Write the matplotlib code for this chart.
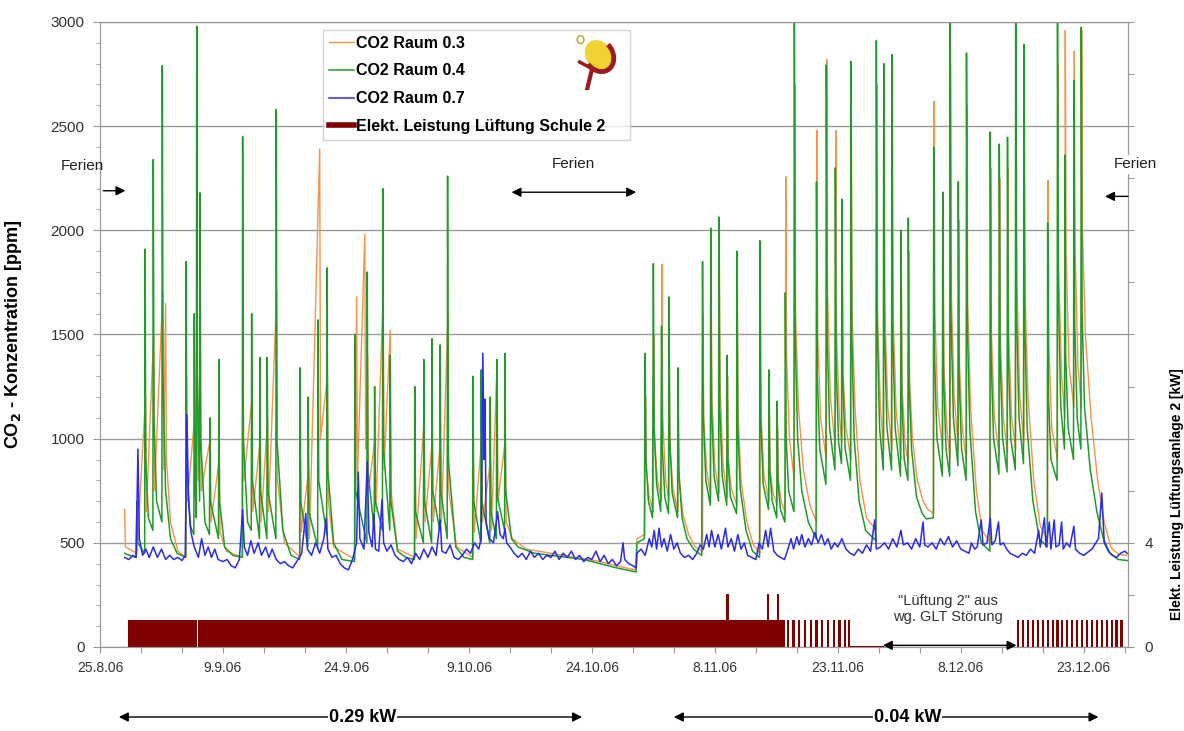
import numpy as np
import matplotlib.pyplot as plt
from matplotlib.patches import Ellipse, Arc, Circle

plt.rcParams['font.family'] = ['Liberation Sans', 'DejaVu Sans']

# x values are days after 25.8.06, y values ppm
green = np.array([
    (3.0, 450), (3.6, 440), (4.4, 430), (4.5, 700), (4.6, 500), (5.45, 450), (5.5, 1910), (5.58, 900),
    (5.9, 620), (6.45, 560), (6.5, 2340), (6.58, 1100), (6.9, 700), (7.55, 600), (7.6, 2790), (7.68, 1300),
    (8.0, 750), (8.6, 520), (9.4, 450), (10.45, 430), (10.5, 1850), (10.58, 900), (11.0, 580), (11.45, 540),
    (11.5, 1600), (11.58, 800), (11.75, 620), (11.8, 2980), (11.88, 1300), (12.15, 700), (12.2, 2180),
    (12.28, 1000), (12.8, 600), (13.35, 540), (13.4, 1100), (13.48, 700), (14.45, 520), (14.5, 1380),
    (14.58, 700), (15.2, 480), (16.2, 440), (17.35, 430), (17.4, 2450), (17.48, 1000), (18.0, 600),
    (18.45, 560), (18.5, 1600), (18.58, 800), (19.45, 520), (19.5, 1390), (19.58, 750), (20.35, 520),
    (20.4, 1390), (20.48, 750), (21.45, 520), (21.5, 2580), (21.58, 1000), (22.3, 560), (23.3, 440),
    (24.35, 420), (24.4, 1340), (24.48, 700), (25.35, 480), (25.4, 1200), (25.48, 650), (26.55, 480),
    (26.6, 1570), (26.68, 800), (27.65, 540), (27.7, 1820), (27.78, 850), (28.5, 500), (29.5, 420),
    (31.05, 410), (31.1, 1500), (31.18, 750), (32.55, 500), (32.6, 1800), (32.68, 850), (33.45, 560),
    (33.5, 1250), (33.58, 700), (34.45, 560), (34.5, 2200), (34.58, 950), (35.35, 560), (35.4, 1400),
    (35.48, 700), (36.3, 460), (37.3, 430), (38.35, 420), (38.4, 1250), (38.48, 650), (39.45, 500),
    (39.5, 1380), (39.58, 700), (40.45, 500), (40.5, 1480), (40.58, 750), (41.45, 560), (41.5, 1450),
    (41.58, 750), (42.35, 520), (42.4, 2260), (42.48, 900), (43.4, 480), (44.4, 430), (45.45, 420),
    (45.5, 1300), (45.58, 700), (46.45, 500), (46.5, 1330), (46.58, 700), (47.55, 500), (47.6, 1200),
    (47.68, 650), (48.35, 520), (48.4, 1380), (48.48, 720), (49.35, 560), (49.4, 1410), (49.48, 750),
    (50.2, 520), (51.0, 480), (53.0, 450), (55.0, 440), (57.0, 430), (59.0, 420), (61.0, 400),
    (63.0, 380), (65.4, 360), (65.5, 500), (66.4, 520), (66.5, 1410), (66.6, 900), (66.9, 700),
    (67.4, 620), (67.5, 1840), (67.6, 1050), (67.9, 780), (68.4, 650), (68.5, 1540), (68.6, 950),
    (68.9, 720), (69.35, 640), (69.4, 1680), (69.5, 1000), (69.8, 740), (70.45, 620), (70.5, 1340),
    (70.6, 850), (71.0, 620), (71.6, 520), (72.4, 470), (73.4, 440), (73.5, 1850), (73.6, 1100),
    (73.9, 800), (74.45, 680), (74.5, 2010), (74.6, 1150), (74.9, 820), (75.45, 700), (75.5, 2064),
    (75.6, 1150), (75.9, 820), (76.45, 680), (76.5, 1400), (76.6, 900), (76.9, 720), (77.65, 640),
    (77.7, 1900), (77.8, 1050), (78.1, 760), (78.8, 560), (79.6, 460), (80.45, 430), (80.5, 1950),
    (80.6, 1100), (80.9, 780), (81.55, 660), (81.6, 1330), (81.7, 850), (82.0, 700), (82.55, 620),
    (82.6, 1180), (82.7, 800), (83.0, 660), (83.55, 600), (83.6, 1700), (83.7, 1000), (84.0, 750),
    (84.65, 650), (84.7, 3100), (84.8, 1500), (85.1, 1000), (85.6, 750), (86.4, 600), (87.35, 520),
    (87.4, 2233), (87.5, 1300), (87.8, 950), (88.55, 780), (88.6, 2794), (88.7, 1500), (89.0, 1050),
    (89.65, 850), (89.7, 2300), (89.8, 1350), (90.1, 980), (90.45, 880), (90.5, 2150), (90.6, 1300),
    (90.9, 950), (91.55, 800), (91.6, 2810), (91.7, 1500), (92.0, 1000), (92.6, 700), (93.4, 560),
    (94.65, 510), (94.7, 2910), (94.8, 1550), (95.1, 1050), (95.55, 850), (95.6, 2800), (95.7, 1500),
    (96.0, 1050), (96.55, 850), (96.6, 2843), (96.7, 1500), (97.0, 1050), (97.65, 820), (97.7, 2000),
    (97.8, 1200), (98.1, 900), (98.55, 800), (98.6, 2059), (98.7, 1250), (99.0, 950), (99.6, 720),
    (100.3, 640), (100.8, 615), (101.65, 620), (101.7, 2400), (101.8, 1400), (102.1, 1000),
    (102.75, 820), (102.8, 2183), (102.9, 1300), (103.2, 950), (103.65, 820), (103.7, 3100),
    (103.8, 1600), (104.1, 1100), (104.65, 870), (104.7, 2233), (104.8, 1300), (105.1, 950),
    (105.65, 800), (105.7, 2851), (105.8, 1550), (106.1, 1050), (106.8, 650), (107.5, 500),
    (108.55, 460), (108.6, 2472), (108.7, 1400), (109.0, 1000), (109.65, 830), (109.7, 2414),
    (109.8, 1400), (110.1, 1000), (110.65, 840), (110.7, 2447), (110.8, 1400), (111.1, 1000),
    (111.65, 850), (111.7, 3100), (111.8, 1600), (112.1, 1100), (112.65, 880), (112.7, 2893),
    (112.8, 1550), (113.1, 1050), (113.8, 700), (114.6, 520), (115.55, 480), (115.6, 2035),
    (115.7, 1200), (116.0, 900), (116.75, 800), (116.8, 3100), (116.9, 1700), (117.2, 1150),
    (117.65, 950), (117.7, 2360), (117.8, 1400), (118.1, 1050), (118.75, 900), (118.8, 2720),
    (118.9, 1550), (119.2, 1100), (119.65, 950), (119.7, 2975), (119.8, 1600), (120.1, 1150),
    (120.8, 850), (121.6, 650), (122.4, 520), (123.2, 450), (124.2, 420), (125.3, 415),
])

orange = np.array([
    (3.0, 660), (3.1, 480), (4.5, 450), (5.55, 1200), (5.65, 650), (6.55, 1500), (6.65, 750),
    (7.65, 1700), (7.75, 850), (8.0, 1650), (8.1, 900), (8.6, 600), (9.5, 460), (10.5, 430),
    (10.55, 1300), (10.65, 700), (11.55, 1100), (11.65, 650), (11.85, 1700), (11.95, 800),
    (12.25, 1500), (12.35, 750), (13.45, 1000), (13.55, 600), (14.55, 900), (14.65, 550),
    (15.4, 460), (17.4, 430), (17.45, 1600), (17.55, 800), (18.55, 1200), (18.65, 650),
    (19.55, 1000), (19.65, 600), (20.45, 1100), (20.55, 650), (21.55, 1700), (21.65, 800),
    (22.5, 500), (24.4, 430), (24.45, 900), (24.55, 550), (25.45, 850), (25.55, 520), (26.8, 2390),
    (26.9, 1000), (27.75, 1300), (27.85, 700), (28.5, 480), (31.1, 420), (31.3, 1680), (31.4, 800),
    (32.3, 1980), (32.4, 950), (32.65, 1400), (32.75, 750), (33.55, 1000), (33.65, 650),
    (34.55, 1700), (34.65, 850), (35.4, 1520), (35.5, 750), (36.3, 470), (38.4, 430), (38.45, 900),
    (38.55, 520), (39.55, 1100), (39.65, 600), (40.55, 1000), (40.65, 600), (41.55, 1000),
    (41.65, 600), (42.45, 1600), (42.55, 750), (43.5, 480), (45.5, 430), (45.55, 900), (45.65, 550),
    (46.55, 1000), (46.65, 600), (47.65, 900), (47.75, 560), (48.45, 1380), (48.55, 700),
    (49.45, 1000), (49.55, 600), (50.3, 520), (52.0, 470), (55.0, 450), (58.0, 430), (61.0, 410),
    (63.0, 390), (65.3, 370), (65.5, 520), (66.45, 540), (66.55, 1200), (66.65, 850), (67.0, 720),
    (67.5, 650), (67.55, 1500), (67.65, 1000), (68.0, 800), (68.5, 700), (68.55, 1837), (68.65, 1100),
    (69.0, 800), (69.4, 700), (69.45, 1400), (69.55, 950), (69.9, 760), (70.5, 650), (70.55, 1100),
    (70.65, 800), (71.1, 640), (71.8, 540), (72.6, 480), (73.5, 460), (73.55, 1600), (73.65, 1100),
    (74.0, 850), (74.5, 720), (74.55, 1800), (74.65, 1200), (75.0, 870), (75.5, 740), (75.55, 1900),
    (75.65, 1250), (76.0, 880), (76.5, 720), (76.55, 1300), (76.65, 900), (77.0, 760), (77.7, 680),
    (77.75, 1700), (77.85, 1100), (78.2, 800), (78.9, 600), (79.7, 490), (80.5, 450), (80.55, 1700),
    (80.65, 1100), (81.0, 820), (81.6, 700), (81.65, 1200), (81.75, 850), (82.1, 740), (82.6, 680),
    (82.65, 1050), (82.75, 800), (83.1, 700), (83.6, 640), (83.65, 2257), (83.75, 1400), (84.1, 1000),
    (84.7, 800), (84.75, 2700), (84.85, 1600), (85.2, 1150), (85.8, 850), (86.6, 680), (87.4, 600),
    (87.45, 2480), (87.55, 1500), (87.9, 1100), (88.6, 900), (88.65, 2820), (88.75, 1700),
    (89.1, 1200), (89.7, 950), (89.75, 2480), (89.85, 1500), (90.2, 1100), (90.5, 980), (90.55, 2000),
    (90.65, 1300), (91.0, 1050), (91.6, 900), (91.65, 2600), (91.75, 1600), (92.1, 1150), (92.7, 800),
    (93.5, 620), (94.7, 560), (94.75, 2700), (94.85, 1600), (95.2, 1150), (95.6, 950), (95.65, 2600),
    (95.75, 1600), (96.1, 1150), (96.6, 950), (96.65, 2650), (96.75, 1600), (97.1, 1150), (97.7, 900),
    (97.75, 1850), (97.85, 1250), (98.2, 980), (98.6, 880), (98.65, 1900), (98.75, 1300), (99.1, 1000),
    (99.7, 800), (100.4, 700), (101.0, 660), (101.7, 640), (101.75, 2620), (101.85, 1600),
    (102.2, 1150), (102.8, 950), (102.85, 2000), (102.95, 1350), (103.3, 1050), (103.7, 900),
    (103.75, 2800), (103.85, 1700), (104.2, 1200), (104.7, 950), (104.75, 2050), (104.85, 1350),
    (105.2, 1050), (105.7, 880), (105.75, 2600), (105.85, 1650), (106.2, 1150), (106.9, 750),
    (107.6, 560), (108.6, 500), (108.65, 2300), (108.75, 1500), (109.1, 1100), (109.7, 920),
    (109.75, 2250), (109.85, 1450), (110.2, 1100), (110.7, 930), (110.75, 2300), (110.85, 1500),
    (111.2, 1100), (111.7, 950), (111.75, 2800), (111.85, 1750), (112.2, 1200), (112.7, 980),
    (112.75, 2700), (112.85, 1700), (113.2, 1200), (113.9, 800), (114.7, 580), (115.6, 520),
    (115.65, 2241), (115.75, 1450), (116.1, 1050), (116.8, 900), (116.85, 2800), (116.95, 1800),
    (117.3, 1300), (117.7, 1100), (117.75, 2959), (117.85, 1900), (118.2, 1350), (118.8, 1150),
    (118.85, 2860), (118.95, 1900), (119.3, 1350), (119.7, 1150), (119.75, 2959), (119.85, 2000),
    (120.2, 1500), (120.9, 1100), (121.7, 800), (122.5, 600), (123.3, 480), (124.2, 445), (125.3, 440),
])

blue = np.array([
    (3.0, 430), (3.5, 420), (4.0, 440), (4.4, 430), (4.63, 950), (4.8, 520), (5.2, 440), (5.6, 470),
    (6.0, 430), (6.5, 480), (7.0, 430), (7.5, 470), (8.0, 420), (8.5, 440), (9.0, 420), (9.5, 430),
    (10.0, 415), (10.4, 440), (10.6, 1115), (10.8, 700), (11.1, 550), (11.5, 480), (12.0, 430),
    (12.4, 520), (12.8, 440), (13.2, 480), (13.6, 430), (14.0, 470), (14.4, 420), (15.0, 410),
    (15.5, 420), (16.0, 390), (16.5, 380), (17.0, 420), (17.4, 660), (17.6, 480), (18.0, 440),
    (18.4, 510), (18.8, 450), (19.3, 500), (19.7, 440), (20.2, 480), (20.6, 430), (21.0, 470),
    (21.5, 420), (22.0, 400), (22.5, 410), (23.0, 390), (23.5, 380), (24.0, 410), (24.6, 450),
    (25.1, 640), (25.3, 470), (25.8, 440), (26.3, 500), (26.8, 450), (27.3, 520), (27.6, 620),
    (27.8, 470), (28.3, 430), (28.8, 440), (29.3, 400), (29.8, 380), (30.3, 370), (30.8, 420),
    (31.3, 500), (31.5, 840), (31.7, 520), (32.2, 470), (32.6, 890), (32.8, 550), (33.2, 480),
    (33.4, 640), (33.6, 470), (34.0, 460), (34.4, 707), (34.6, 500), (35.0, 460), (35.5, 490),
    (36.0, 440), (36.5, 420), (37.0, 410), (37.5, 430), (38.0, 400), (38.5, 450), (39.0, 420),
    (39.5, 470), (40.0, 430), (40.5, 480), (41.0, 440), (41.5, 610), (41.7, 460), (42.2, 450),
    (42.7, 490), (43.2, 430), (43.7, 420), (44.2, 440), (44.7, 470), (45.2, 450), (45.7, 500),
    (46.2, 470), (46.5, 520), (46.7, 1410), (46.85, 900), (46.95, 1190), (47.1, 600), (47.5, 520),
    (48.0, 500), (48.5, 650), (48.8, 540), (49.2, 520), (49.4, 570), (49.6, 500), (50.0, 480),
    (50.5, 450), (51.0, 430), (51.5, 450), (52.0, 420), (52.5, 460), (53.0, 430), (53.5, 450),
    (54.0, 420), (54.5, 440), (55.0, 430), (55.5, 460), (56.0, 420), (56.5, 450), (57.0, 430),
    (57.5, 460), (58.0, 420), (58.5, 440), (59.0, 410), (59.5, 430), (60.0, 420), (60.5, 460),
    (61.0, 410), (61.5, 440), (62.0, 400), (62.5, 420), (63.0, 390), (63.5, 410), (63.8, 500),
    (64.0, 420), (64.5, 400), (65.0, 390), (65.4, 380), (65.5, 450), (66.0, 470), (66.5, 440),
    (67.0, 520), (67.3, 480), (67.6, 560), (67.9, 470), (68.2, 570), (68.5, 480), (68.8, 520),
    (69.2, 460), (69.6, 540), (70.0, 470), (70.4, 500), (70.8, 450), (71.3, 430), (71.8, 440),
    (72.3, 420), (72.8, 450), (73.2, 490), (73.6, 470), (74.0, 540), (74.3, 480), (74.6, 560),
    (75.0, 480), (75.4, 540), (75.8, 470), (76.3, 570), (76.6, 480), (77.0, 520), (77.4, 460),
    (77.8, 540), (78.2, 470), (78.6, 500), (79.0, 440), (79.5, 430), (80.0, 420), (80.4, 500),
    (80.8, 470), (81.2, 560), (81.5, 480), (81.8, 570), (82.2, 460), (82.6, 440), (83.0, 430),
    (83.5, 420), (84.0, 480), (84.3, 520), (84.6, 470), (85.0, 530), (85.3, 490), (85.6, 540),
    (86.0, 480), (86.4, 520), (86.8, 490), (87.2, 550), (87.6, 500), (88.0, 540), (88.4, 490),
    (88.8, 520), (89.2, 470), (89.6, 500), (90.0, 480), (90.5, 520), (91.0, 470), (91.5, 450),
    (92.0, 440), (92.5, 470), (93.0, 450), (93.5, 490), (94.0, 460), (94.5, 610), (94.7, 470),
    (95.2, 480), (95.7, 500), (96.2, 470), (96.7, 520), (97.2, 480), (97.7, 560), (98.0, 490),
    (98.5, 500), (99.0, 470), (99.5, 520), (100.0, 480), (100.4, 600), (100.6, 490), (101.0, 480),
    (101.5, 500), (102.0, 470), (102.5, 520), (103.0, 490), (103.5, 530), (104.0, 480), (104.5, 510),
    (105.0, 470), (105.5, 460), (106.0, 450), (106.3, 500), (106.7, 470), (107.0, 480), (107.5, 610),
    (107.7, 490), (108.2, 500), (108.6, 620), (108.8, 490), (109.2, 510), (109.6, 600), (109.8, 490),
    (110.2, 500), (110.6, 470), (111.0, 450), (111.5, 440), (112.0, 430), (112.5, 450), (113.0, 440),
    (113.5, 470), (114.0, 450), (114.5, 560), (114.7, 480), (115.2, 620), (115.4, 480), (115.8, 600),
    (116.0, 470), (116.4, 610), (116.6, 480), (117.0, 490), (117.3, 600), (117.5, 470), (117.9, 500),
    (118.3, 480), (118.8, 580), (119.0, 470), (119.5, 450), (120.0, 440), (121.0, 470), (121.8, 520),
    (122.2, 740), (122.5, 500), (123.0, 460), (123.5, 440), (124.0, 430), (124.5, 450), (125.0, 460),
    (125.3, 450),
])

# ventilation power [kW]
block_start = [3.4, 11.95]
block_end = [11.85, 83.5]
block_kw = [1.05, 1.05]
spike_t = [76.55, 81.5, 82.7]
spike_kw = [2.05, 2.05, 2.05]
pulse_t = [83.9, 84.6, 85.3, 86.0, 86.7, 87.4, 88.1, 88.8, 89.5, 90.2, 90.9, 91.4,
           112.0, 112.6, 113.2, 113.8, 114.4, 115.0, 115.6, 116.2, 116.8, 117.4, 118.0,
           118.6, 119.2, 119.8, 120.4, 121.0, 121.6, 122.2, 122.8, 123.4, 124.0, 124.6]
pulse_kw = [1.05] * len(pulse_t)
off_t = [91.5, 95.5]
off_kw = [0, 0]

tick_days = list(range(0, 126, 5))
tick_labels = ['25.8.06', '', '', '9.9.06', '', '', '24.9.06', '', '', '9.10.06', '', '',
               '24.10.06', '', '', '8.11.06', '', '', '23.11.06', '', '', '8.12.06', '', '',
               '23.12.06', '']

c_orange = '#f7924a'
c_green = '#229a2a'
c_blue = '#2a2af0'
c_red = '#800000'
grey = '#9a9a9a'

fig = plt.figure(figsize=(11.84, 7.31), dpi=100)
ax = fig.add_axes([100 / 1184, 1 - 647 / 731, 1028 / 1184, 625 / 731])
ax2 = ax.twinx()

l1, = ax.plot(orange[:, 0], orange[:, 1], color=c_orange, lw=1.0)
l2, = ax.plot(green[:, 0], green[:, 1], color=c_green, lw=1.1)
l3, = ax.plot(blue[:, 0], blue[:, 1], color=c_blue, lw=1.1)

for s, e, k in zip(block_start, block_end, block_kw):
    ax2.bar(s, k, width=e - s, align='edge', color=c_red, linewidth=0)
ax2.bar(spike_t, spike_kw, width=0.28, color=c_red, linewidth=0)
ax2.bar(pulse_t, pulse_kw, width=0.26, color=c_red, linewidth=0)
ax2.plot(off_t, off_kw, color=c_red, lw=1.5)

ax.set_xlim(0, 125.4)
ax.set_ylim(0, 3000)
ax2.set_ylim(0, 24)

ax.set_yticks(range(0, 3001, 500))
ax.set_yticks(range(0, 3001, 100), minor=True)
ax.yaxis.grid(True, color=grey, lw=1.0)
ax.set_axisbelow(True)
ax.set_xticks(tick_days)
ax.set_xticklabels(tick_labels)
ax2.set_yticks(range(0, 25, 2))
ax2.set_yticklabels(['0', '', '4'] + [''] * 10)

for a in (ax, ax2):
    for sp in a.spines.values():
        sp.set_color(grey)
ax.tick_params(axis='both', which='both', colors=grey, labelcolor='#333333')
ax.tick_params(axis='x', length=4, labelsize=10, pad=6)
ax.tick_params(axis='y', which='major', length=5, labelsize=11, pad=6)
ax.tick_params(axis='y', which='minor', length=3)
ax2.tick_params(axis='y', colors=grey, labelcolor='#333333', length=4, labelsize=11, pad=8)

ax.set_ylabel(r'CO$_\mathbf{2}$ - Konzentration [ppm]', fontsize=13, fontweight='bold')
ax.yaxis.set_label_coords(-0.074, 0.5)
ax2.set_ylabel('Elekt. Leistung Lüftungsanlage 2 [kW]', fontsize=10, fontweight='bold')
ax2.yaxis.set_label_coords(1.041, 0.245)

leg_handles = [l1, l2, l3, plt.Line2D([], [], color=c_red, lw=4)]
leg_labels = ['CO2 Raum 0.3', 'CO2 Raum 0.4', 'CO2 Raum 0.7', 'Elekt. Leistung Lüftung Schule 2']
leg = ax2.legend(leg_handles, leg_labels, loc='upper left', mode='expand',
                 bbox_to_anchor=(0.217, 0.80, 0.299, 0.187), frameon=True,
                 fancybox=False, edgecolor='#c8c8c8', handlelength=1.6, handletextpad=0.1,
                 borderpad=0.35, labelspacing=0.8, prop={'weight': 'bold', 'size': 11.5},
                 borderaxespad=0)
leg.get_frame().set_linewidth(1.0)

# small logo inside the legend box
lax = fig.add_axes([570 / 1184, 1 - 90 / 731, 48 / 1184, 56 / 731])
lax.set_xlim(0, 1)
lax.set_ylim(0, 1)
lax.axis('off')
lax.add_patch(Ellipse((0.6, 0.62), 0.62, 0.5, angle=-35, fc='#f0d230', ec='none'))
lax.add_patch(Arc((0.6, 0.62), 0.66, 0.54, angle=-35, theta1=-110, theta2=80, color='#9a1c1c', lw=3.5))
lax.plot([0.46, 0.36], [0.38, 0.02], color='#9a1c1c', lw=3)
lax.plot([0.2, 0.46], [0.5, 0.38], color='#9a1c1c', lw=2.5)
lax.add_patch(Circle((0.22, 0.9), 0.07, fc='white', ec='#c8b040', lw=1.2))

arr = dict(arrowstyle='-|>', color='black', lw=1.0, mutation_scale=14, shrinkA=0, shrinkB=0)
arr2 = dict(arrowstyle='<|-|>', color='black', lw=1.0, mutation_scale=14, shrinkA=0, shrinkB=0)
T = ax.transData

ax2.text(-2.1, 2310, 'Ferien', transform=T, ha='center', va='center', fontsize=11,
         color='#222222', clip_on=False)
ax2.annotate('', xy=(3.1, 2190), xytext=(0.4, 2190), xycoords=T, textcoords=T,
             arrowprops=arr, annotation_clip=False)
ax2.text(57.8, 2317, 'Ferien', transform=T, ha='center', va='center', fontsize=11, color='#222222')
ax2.annotate('', xy=(50.2, 2183), xytext=(65.4, 2183), xycoords=T, textcoords=T, arrowprops=arr2)
ax2.text(126.3, 2317, 'Ferien', transform=T, ha='center', va='center', fontsize=11,
         color='#222222', bbox=dict(facecolor='white', edgecolor='none', pad=2), clip_on=False)
ax2.annotate('', xy=(122.6, 2163), xytext=(125.4, 2163), xycoords=T, textcoords=T,
             arrowprops=arr, annotation_clip=False)

ax2.text(103.4, 183, '"Lüftung 2" aus\nwg. GLT Störung', transform=T, ha='center',
         va='center', fontsize=10.5, color='#333333', linespacing=1.15)
ax2.annotate('', xy=(95.5, 8), xytext=(111.8, 8), xycoords=T, textcoords=T, arrowprops=arr2)

tb = ax.get_xaxis_transform()
for x0, x1, xt, txt in [(2.3, 58.8, 32.0, '0.29 kW'), (70.0, 121.8, 98.5, '0.04 kW')]:
    ax.annotate('', xy=(x0, -0.112), xytext=(x1, -0.112), xycoords=tb, textcoords=tb,
                arrowprops=arr2, annotation_clip=False)
    ax.text(xt, -0.112, txt, transform=tb, ha='center', va='center', fontsize=13,
            fontweight='bold', bbox=dict(facecolor='white', edgecolor='none', pad=0.5))

fig.savefig('out.png', dpi=100)
